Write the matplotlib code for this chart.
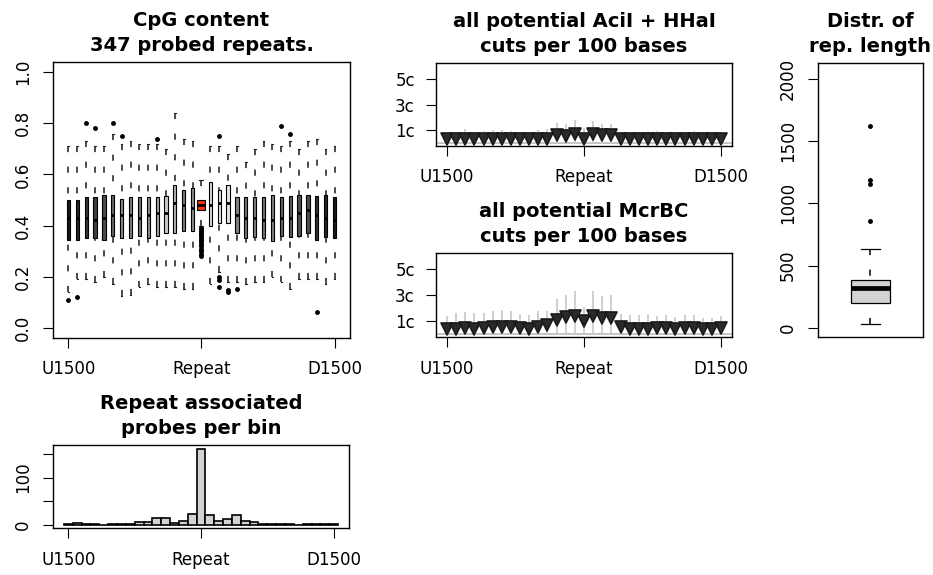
import numpy as np
import matplotlib.pyplot as plt
from matplotlib.markers import MarkerStyle

plt.rcParams['font.family'] = ['DejaVu Sans']

# 31 bins: 15 upstream, the repeat itself, 15 downstream
bins = np.arange(1, 32)
tick_pos = [1, 16, 31]
tick_lab = ["U1500", "Repeat", "D1500"]

# CpG content per bin (box statistics)
cpg_q1 = [0.345, 0.345, 0.35, 0.35, 0.345, 0.36, 0.35, 0.35, 0.36, 0.35, 0.36, 0.37, 0.37, 0.38, 0.38,
          0.46, 0.40, 0.41, 0.41, 0.37, 0.35, 0.355, 0.35, 0.34, 0.36, 0.355, 0.36, 0.37, 0.345, 0.355, 0.35]
cpg_med = [0.43, 0.43, 0.43, 0.42, 0.43, 0.44, 0.44, 0.44, 0.43, 0.44, 0.45, 0.45, 0.49, 0.48, 0.47,
           0.48, 0.48, 0.49, 0.49, 0.44, 0.43, 0.43, 0.42, 0.42, 0.43, 0.43, 0.45, 0.46, 0.44, 0.43, 0.42]
cpg_q3 = [0.50, 0.50, 0.51, 0.51, 0.52, 0.52, 0.505, 0.51, 0.51, 0.51, 0.51, 0.515, 0.56, 0.54, 0.545,
          0.50, 0.57, 0.54, 0.56, 0.51, 0.51, 0.51, 0.51, 0.52, 0.51, 0.515, 0.52, 0.52, 0.515, 0.52, 0.51]
cpg_wlo = [0.14, 0.19, 0.19, 0.18, 0.20, 0.17, 0.125, 0.13, 0.16, 0.17, 0.16, 0.16, 0.16, 0.15, 0.15,
           0.40, 0.17, 0.22, 0.18, 0.18, 0.17, 0.18, 0.18, 0.20, 0.18, 0.15, 0.19, 0.19, 0.19, 0.17, 0.19]
cpg_whi = [0.71, 0.71, 0.73, 0.71, 0.71, 0.76, 0.72, 0.73, 0.72, 0.72, 0.72, 0.70, 0.84, 0.74, 0.73,
           0.58, 0.71, 0.71, 0.68, 0.71, 0.65, 0.70, 0.73, 0.72, 0.71, 0.73, 0.70, 0.73, 0.74, 0.70, 0.71]
cpg_out = {
    1: [0.11], 2: [0.12], 3: [0.80], 4: [0.78], 6: [0.80], 7: [0.75], 11: [0.74],
    16: [0.28, 0.29, 0.30, 0.305, 0.31, 0.32, 0.325, 0.33, 0.34, 0.345, 0.35, 0.36,
         0.365, 0.37, 0.38, 0.385, 0.39],
    18: [0.75, 0.197, 0.186, 0.16], 19: [0.148, 0.138], 20: [0.15],
    25: [0.79], 26: [0.76], 29: [0.06],
}
# box shading (gray level) per bin, repeat box drawn red
cpg_shade = [0.10, 0.15, 0.20, 0.25, 0.30, 0.40, 0.55, 0.50, 0.45, 0.55, 0.65, 0.80, 0.70, 0.50, 0.55,
             None, 0.85, 0.90, 0.90, 0.50, 0.45, 0.50, 0.45, 0.50, 0.40, 0.35, 0.30, 0.30, 0.20, 0.15, 0.10]

# cuts per 100 bases
acii_pt = [0.28, 0.28, 0.30, 0.30, 0.30, 0.32, 0.32, 0.30, 0.28, 0.28, 0.30, 0.30,
           0.60, 0.55, 0.72, 0.30, 0.70, 0.60, 0.62,
           0.30, 0.28, 0.30, 0.30, 0.30, 0.28, 0.28, 0.28, 0.30, 0.28, 0.28, 0.30]
acii_top = [0.74, 0.82, 1.06, 0.87, 0.93, 1.00, 1.00, 0.95, 0.82, 0.87, 1.00, 1.06,
            1.59, 1.46, 1.80, 1.14, 1.72, 1.46, 1.46,
            0.82, 0.74, 0.87, 0.93, 0.93, 0.87, 0.74, 0.82, 0.93, 0.82, 0.74, 0.82]
mcr_pt = [0.40, 0.40, 0.45, 0.40, 0.45, 0.50, 0.55, 0.55, 0.45, 0.40, 0.55, 0.68,
          1.08, 1.29, 1.42, 1.03, 1.42, 1.26, 1.20,
          0.50, 0.40, 0.40, 0.40, 0.42, 0.42, 0.40, 0.42, 0.45, 0.40, 0.40, 0.42]
mcr_top = [1.39, 1.58, 1.66, 1.58, 1.63, 1.79, 1.84, 1.79, 1.53, 1.45, 1.79, 1.79,
           2.71, 2.97, 3.32, 2.10, 3.32, 2.92, 2.97,
           1.53, 1.45, 1.45, 1.53, 1.39, 1.47, 1.32, 1.45, 1.47, 1.21, 1.26, 1.39]

# repeat associated probes per bin
probes_per_bin = [1, 5, 1, 1, 0, 3, 1, 3, 6, 6, 15, 14, 4, 8, 23, 161,
                  21, 9, 12, 22, 9, 7, 3, 1, 2, 1, 0, 1, 2, 1, 1]

# repeat length distribution
rep_len = dict(whislo=26, q1=195, med=318, q3=387, whishi=636,
               fliers=[858, 1155, 1190, 1622])

TICK = 12
TITLE = 14
WHISK_LS = (0, (4.0, 9.5))


def style_axes(ax):
    for s in ax.spines.values():
        s.set_linewidth(1.0)
    ax.tick_params(direction='out', length=7.2, width=0.8, labelsize=TICK, pad=8)


def bin_axis(ax):
    ax.set_xticks(tick_pos)
    ax.set_xticklabels(tick_lab)


def title(ax, txt):
    ax.set_title(txt, fontsize=TITLE, fontweight='bold', pad=8, linespacing=1.4)


def whiskers_from_ends(bp):
    # dash pattern starts at the staple, as in R
    for ln in bp['whiskers']:
        x, y = ln.get_data()
        ln.set_data(x[::-1], y[::-1])


fig = plt.figure(figsize=(9.33, 5.75), dpi=100)

# --- CpG content ---
ax1 = fig.add_axes([0.0568, 0.4122, 0.3183, 0.48])
stats = []
for i in range(31):
    stats.append(dict(med=cpg_med[i], q1=cpg_q1[i], q3=cpg_q3[i],
                      whislo=cpg_wlo[i], whishi=cpg_whi[i],
                      fliers=cpg_out.get(i + 1, [])))
widths = [0.9 if b == 16 else 0.36 for b in bins]
bp = ax1.bxp(stats, positions=bins, widths=widths, patch_artist=True,
             boxprops=dict(linewidth=0.8, edgecolor='black'),
             whiskerprops=dict(linestyle=WHISK_LS, linewidth=1.1, color='#1a1a1a'),
             capprops=dict(linewidth=0.8, color='#222222'),
             medianprops=dict(color='black', linewidth=2.0),
             flierprops=dict(marker='o', markersize=2.5, markerfacecolor='black',
                             markeredgecolor='black'))
whiskers_from_ends(bp)
for patch, g in zip(bp['boxes'], cpg_shade):
    patch.set_facecolor('#ee3311' if g is None else str(g))
ax1.set_xlim(-0.74, 32.74)
ax1.set_ylim(-0.04, 1.04)
ax1.set_yticks([0, 0.2, 0.4, 0.6, 0.8, 1.0])
ax1.set_yticklabels(["0.0", "0.2", "0.4", "0.6", "0.8", "1.0"], rotation=90, va='center')
bin_axis(ax1)
style_axes(ax1)
ax1.tick_params(axis='x', pad=9)
title(ax1, "CpG content\n347 probed repeats.")

tri = MarkerStyle('v', joinstyle='round')


def cuts_panel(rect, pts, tops, txt):
    ax = fig.add_axes(rect)
    ax.axhline(0, color='#bbbbbb', lw=1.2, zorder=1)
    ax.vlines(bins, 0, tops, color='#d0d0d0', lw=1.4, zorder=1)
    ax.plot(bins, pts, linestyle='none', marker=tri, markersize=8,
            markerfacecolor='#2a2a2a', markeredgecolor='#1a1a1a', markeredgewidth=1.2, zorder=3)
    ax.set_xlim(-0.2, 32.2)
    ax.set_ylim(-0.24, 6.24)
    ax.set_yticks([1, 3, 5])
    ax.set_yticklabels(["1c", "3c", "5c"])
    bin_axis(ax)
    style_axes(ax)
    ax.tick_params(axis='x', pad=9)
    title(ax, txt)
    return ax


cuts_panel([0.4673, 0.7461, 0.3173, 0.1443], acii_pt, acii_top,
           "all potential AciI + HHaI\ncuts per 100 bases")
cuts_panel([0.4673, 0.4139, 0.3173, 0.146], mcr_pt, mcr_top,
           "all potential McrBC\ncuts per 100 bases")

# --- repeat length ---
ax4 = fig.add_axes([0.8767, 0.4139, 0.1125, 0.4765])
bp2 = ax4.bxp([rep_len], positions=[1], widths=[0.4], patch_artist=True,
              boxprops=dict(linewidth=0.9, edgecolor='black', facecolor='#d3d3d3'),
              whiskerprops=dict(linestyle=WHISK_LS, linewidth=1.1, color='black'),
              capprops=dict(linewidth=0.9, color='black'),
              medianprops=dict(color='black', linewidth=3.4),
              flierprops=dict(marker='o', markersize=2.5, markerfacecolor='black',
                              markeredgecolor='black'))
whiskers_from_ends(bp2)
ax4.set_xlim(0.46, 1.54)
ax4.set_ylim(-75, 2130)
ax4.set_xticks([])
ax4.set_yticks([0, 500, 1000, 1500, 2000])
ax4.set_yticklabels(["0", "500", "1000", "1500", "2000"], rotation=90, va='center')
style_axes(ax4)
title(ax4, "Distr. of\nrep. length")

# --- probes per bin ---
ax5 = fig.add_axes([0.0568, 0.0817, 0.3173, 0.1443])
ax5.bar(bins, probes_per_bin, width=1.0, color='#d3d3d3', edgecolor='black', linewidth=1.2)
ax5.set_xlim(-0.74, 32.74)
ax5.set_ylim(-6.5, 168.5)
ax5.set_yticks([0, 50, 100, 150])
ax5.set_yticklabels(["0", "", "100", ""], rotation=90, va='center')
bin_axis(ax5)
style_axes(ax5)
ax5.tick_params(axis='x', pad=9)
title(ax5, "Repeat associated\nprobes per bin")

fig.savefig("out.png", dpi=100)
